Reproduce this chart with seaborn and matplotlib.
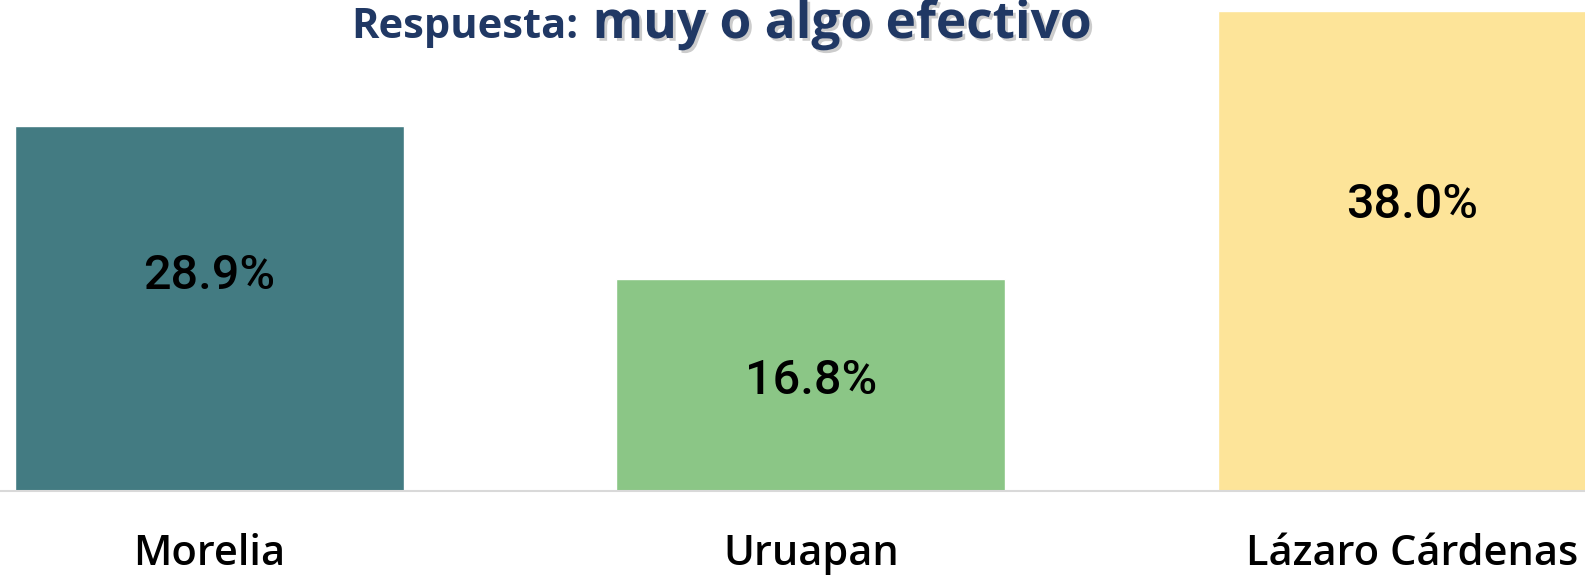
import matplotlib
matplotlib.use("Agg")
import matplotlib.pyplot as plt
import matplotlib.patheffects as pe
import seaborn as sns
import pandas as pd

# Data
ciudades = ["Morelia", "Uruapan", "Lázaro Cárdenas"]
porcentajes = [28.9, 16.8, 38.0]
etiquetas = ["28.9%", "16.8%", "38.0%"]
colores = ["#437B82", "#8BC686", "#FDE499"]

# where the value label sits, as a fraction of the bar height
label_pos = [0.59, 0.52, 0.595]

df = pd.DataFrame({"ciudad": ciudades, "pct": porcentajes})

sns.set_style("white")
plt.rcParams["font.family"] = ["Roboto", "DejaVu Sans"]

fig = plt.figure(figsize=(15.85, 5.76), dpi=100)
ax = fig.add_axes([0, 85 / 576, 1, 491 / 576])

sns.barplot(data=df, x="ciudad", y="pct", hue="ciudad", palette=colores,
            width=0.647, legend=False, saturation=1, ax=ax)

ax.set_xlim(-0.348, 2.287)
ax.set_ylim(0, 38.87)
sns.despine(ax=ax, left=True, top=True, right=True, bottom=True)
ax.axhline(0, color="#D9D9D9", lw=1.5, clip_on=False)
ax.set_yticks([])
ax.set_xticks([])
ax.set_xlabel("")
ax.set_ylabel("")

# category names under the bars
trans = ax.get_xaxis_transform()
for i, c in enumerate(ciudades):
    ax.text(i, -74 / 491, c, transform=trans, ha="center", va="baseline",
            fontsize=30, fontweight="semibold", color="black",
            family="Open Sans", clip_on=False)

for i, (v, lab) in enumerate(zip(porcentajes, etiquetas)):
    ax.text(i, v * label_pos[i], lab, ha="center", va="center",
            fontsize=35, fontweight="medium", color="black")

# title in two pieces, the second larger with a shadow
title_color = "#203864"
fig.text(465 / 1585, 538 / 576, "Respuesta:", ha="center", va="baseline",
         fontsize=30, fontweight="bold", color=title_color, family="Open Sans")
fig.text(842 / 1585, 538 / 576, "muy o algo efectivo", ha="center", va="baseline",
         fontsize=37, fontweight="bold", color=title_color, family="Open Sans",
         path_effects=[pe.withSimplePatchShadow(offset=(2, -2), shadow_rgbFace="gray", alpha=0.4)])

fig.savefig("out.png", dpi=100)
